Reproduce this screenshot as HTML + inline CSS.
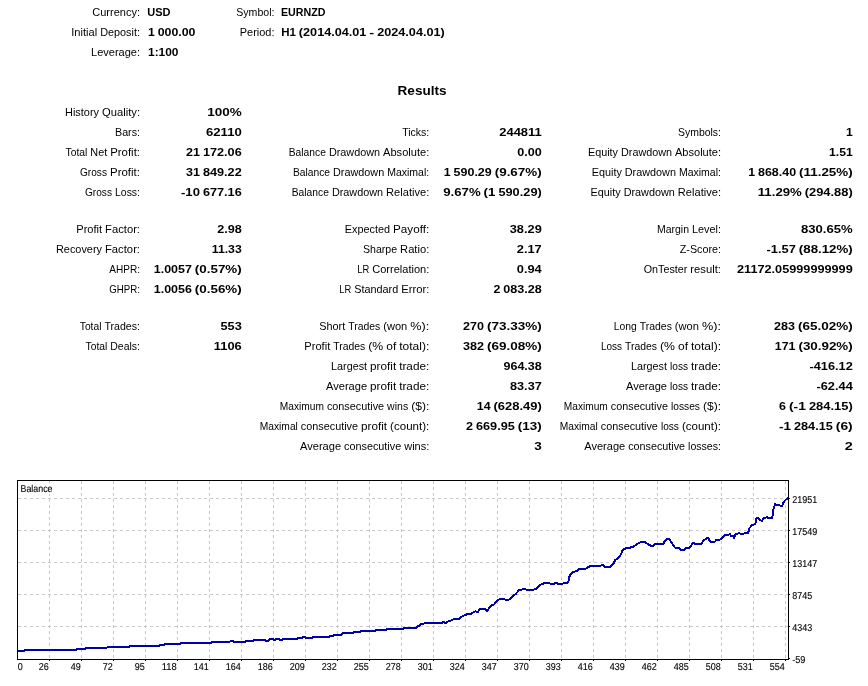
<!DOCTYPE html>
<html><head><meta charset="utf-8"><title>Strategy Tester Report</title>
<style>
html,body{margin:0;padding:0;background:#fff;}
body{width:868px;height:686px;overflow:hidden;font-family:"Liberation Sans",sans-serif;}
svg{display:block;will-change:transform;}
text{font-family:"Liberation Sans",sans-serif;fill:#000;}
.b{font-weight:bold;}
</style></head><body>
<svg width="868" height="686" viewBox="0 0 868 686">
<rect x="0" y="0" width="868" height="686" fill="#fff"/>
<g stroke="#c8c8c8" stroke-width="1" stroke-dasharray="3 3" shape-rendering="crispEdges" fill="none">
<line x1="49.5" y1="481" x2="49.5" y2="659"/>
<line x1="81.5" y1="481" x2="81.5" y2="659"/>
<line x1="113.5" y1="481" x2="113.5" y2="659"/>
<line x1="145.5" y1="481" x2="145.5" y2="659"/>
<line x1="177.5" y1="481" x2="177.5" y2="659"/>
<line x1="209.5" y1="481" x2="209.5" y2="659"/>
<line x1="241.5" y1="481" x2="241.5" y2="659"/>
<line x1="273.5" y1="481" x2="273.5" y2="659"/>
<line x1="305.5" y1="481" x2="305.5" y2="659"/>
<line x1="337.5" y1="481" x2="337.5" y2="659"/>
<line x1="369.5" y1="481" x2="369.5" y2="659"/>
<line x1="401.5" y1="481" x2="401.5" y2="659"/>
<line x1="433.5" y1="481" x2="433.5" y2="659"/>
<line x1="465.5" y1="481" x2="465.5" y2="659"/>
<line x1="497.5" y1="481" x2="497.5" y2="659"/>
<line x1="529.5" y1="481" x2="529.5" y2="659"/>
<line x1="561.5" y1="481" x2="561.5" y2="659"/>
<line x1="593.5" y1="481" x2="593.5" y2="659"/>
<line x1="625.5" y1="481" x2="625.5" y2="659"/>
<line x1="657.5" y1="481" x2="657.5" y2="659"/>
<line x1="689.5" y1="481" x2="689.5" y2="659"/>
<line x1="721.5" y1="481" x2="721.5" y2="659"/>
<line x1="753.5" y1="481" x2="753.5" y2="659"/>
<line x1="785.5" y1="481" x2="785.5" y2="659"/>
<line x1="18" y1="498.5" x2="788" y2="498.5"/>
<line x1="18" y1="530.5" x2="788" y2="530.5"/>
<line x1="18" y1="562.5" x2="788" y2="562.5"/>
<line x1="18" y1="594.5" x2="788" y2="594.5"/>
<line x1="18" y1="626.5" x2="788" y2="626.5"/>
</g>
<rect x="19" y="483" width="34" height="11" fill="#fff"/>
<polyline fill="none" stroke="#0000aa" stroke-width="2" stroke-linejoin="round" stroke-linecap="butt" shape-rendering="crispEdges" points="17.5,651.0 23.8,651.0 24.5,650.0 75.7,650.0 76.5,649.0 85.0,649.0 86.0,647.7 106.8,647.6 107.6,646.9 129.0,646.8 130.0,645.9 159.5,645.9 160.5,644.9 164.0,644.7 165.0,643.8 180.0,643.7 181.0,642.8 211.0,642.8 212.0,642.0 229.5,642.0 230.5,641.1 233.0,641.1 234.0,642.0 245.0,642.0 246.0,641.1 253.0,641.1 254.0,640.1 265.0,640.1 266.5,641.1 268.5,641.1 270.0,639.0 272.7,639.0 273.7,640.0 275.0,640.0 276.0,638.9 278.7,638.9 279.8,639.9 282.0,639.9 283.0,638.9 297.0,638.9 297.8,637.9 302.0,637.9 302.6,636.8 304.7,636.8 305.5,637.9 312.5,637.9 313.3,636.8 329.0,636.8 329.9,635.8 333.0,635.8 334.0,634.9 341.0,634.9 342.5,633.0 353.0,632.9 354.0,631.8 360.0,631.8 360.8,630.8 375.5,630.8 376.4,629.7 386.0,629.7 386.8,628.7 403.0,628.7 404.0,627.7 416.0,627.7 417.5,626.3 419.6,625.6 421.0,624.2 424.0,623.6 425.0,623.0 441.6,623.0 443.0,621.8 445.7,623.0 447.8,621.5 450.6,620.6 454.0,619.2 458.9,619.0 461.6,616.7 465.1,614.9 467.9,614.1 471.3,613.9 473.4,612.3 475.7,611.2 477.5,612.3 479.6,609.4 481.7,608.7 484.4,608.9 487.2,610.9 490.0,607.0 492.0,605.1 494.1,604.5 496.9,601.1 499.7,599.0 503.8,599.0 505.9,600.1 508.6,599.8 511.4,598.0 513.5,595.7 516.2,593.5 519.0,590.1 521.8,589.6 524.3,588.8 526.6,589.7 533.5,589.7 536.3,588.6 538.8,585.8 541.9,584.0 545.4,583.0 548.8,583.0 550.9,584.0 553.7,583.9 555.7,582.9 558.5,583.9 562.0,583.9 564.0,582.9 567.5,582.9 568.9,580.1 569.6,576.0 571.6,573.0 574.4,571.6 577.2,570.7 579.2,568.9 585.5,568.8 587.5,567.3 591.0,565.9 600.0,565.9 602.5,564.9 604.8,566.7 610.3,566.7 613.1,564.5 615.2,559.8 618.0,558.4 620.7,554.6 622.4,550.7 624.9,548.6 629.0,547.9 633.2,546.8 636.6,544.2 640.8,542.1 645.0,541.9 647.8,544.0 651.2,546.0 653.0,546.0 655.0,544.1 663.0,544.1 664.4,541.8 667.1,539.1 669.2,539.1 672.0,543.1 675.1,547.7 678.9,548.0 680.3,549.9 684.4,549.9 686.5,547.7 689.0,547.7 691.3,545.6 692.7,543.1 694.4,543.1 695.5,544.1 701.4,544.1 703.1,541.1 705.8,539.0 708.3,537.6 710.0,541.5 715.2,541.5 716.2,540.1 719.0,540.1 721.7,538.7 724.5,535.0 728.6,534.8 730.0,533.6 731.0,535.9 733.5,536.2 734.2,538.0 735.6,533.9 738.2,533.4 743.8,533.7 744.7,532.9 748.4,532.7 748.8,528.8 752.0,525.3 754.8,524.2 756.2,521.9 756.4,517.9 758.0,517.9 760.3,520.0 761.9,520.9 763.6,518.0 766.3,517.4 771.9,517.9 772.8,515.4 773.0,510.3 774.2,507.6 774.8,504.4 776.0,504.6 779.2,504.8 780.6,506.0 782.2,506.0 783.4,502.5 785.7,499.7 788.3,497.7"/>
<g stroke="#000" stroke-width="1" shape-rendering="crispEdges" fill="none">
<rect x="17.5" y="480.5" width="771" height="179"/>
<line x1="49.5" y1="660" x2="49.5" y2="661"/>
<line x1="81.5" y1="660" x2="81.5" y2="661"/>
<line x1="113.5" y1="660" x2="113.5" y2="661"/>
<line x1="145.5" y1="660" x2="145.5" y2="661"/>
<line x1="177.5" y1="660" x2="177.5" y2="661"/>
<line x1="209.5" y1="660" x2="209.5" y2="661"/>
<line x1="241.5" y1="660" x2="241.5" y2="661"/>
<line x1="273.5" y1="660" x2="273.5" y2="661"/>
<line x1="305.5" y1="660" x2="305.5" y2="661"/>
<line x1="337.5" y1="660" x2="337.5" y2="661"/>
<line x1="369.5" y1="660" x2="369.5" y2="661"/>
<line x1="401.5" y1="660" x2="401.5" y2="661"/>
<line x1="433.5" y1="660" x2="433.5" y2="661"/>
<line x1="465.5" y1="660" x2="465.5" y2="661"/>
<line x1="497.5" y1="660" x2="497.5" y2="661"/>
<line x1="529.5" y1="660" x2="529.5" y2="661"/>
<line x1="561.5" y1="660" x2="561.5" y2="661"/>
<line x1="593.5" y1="660" x2="593.5" y2="661"/>
<line x1="625.5" y1="660" x2="625.5" y2="661"/>
<line x1="657.5" y1="660" x2="657.5" y2="661"/>
<line x1="689.5" y1="660" x2="689.5" y2="661"/>
<line x1="721.5" y1="660" x2="721.5" y2="661"/>
<line x1="753.5" y1="660" x2="753.5" y2="661"/>
<line x1="785.5" y1="660" x2="785.5" y2="661"/>
<line x1="789" y1="498.5" x2="790" y2="498.5"/>
<line x1="789" y1="530.5" x2="790" y2="530.5"/>
<line x1="789" y1="562.5" x2="790" y2="562.5"/>
<line x1="789" y1="594.5" x2="790" y2="594.5"/>
<line x1="789" y1="626.5" x2="790" y2="626.5"/>
<line x1="789" y1="658.5" x2="790" y2="658.5"/>
</g>
<text x="92.25" y="16" font-size="11" textLength="47.75" lengthAdjust="spacingAndGlyphs">Currency:</text>
<text x="71.25" y="36" font-size="11" textLength="25.91" lengthAdjust="spacingAndGlyphs">Initial</text>
<text x="100.14" y="36" font-size="11" textLength="39.86" lengthAdjust="spacingAndGlyphs">Deposit:</text>
<text x="91.00" y="56" font-size="11" textLength="49.00" lengthAdjust="spacingAndGlyphs">Leverage:</text>
<text class="b" x="147.25" y="16" font-size="11" textLength="23.25" lengthAdjust="spacingAndGlyphs">USD</text>
<text class="b" x="148.00" y="36" font-size="11" textLength="6.79" lengthAdjust="spacingAndGlyphs">1</text>
<text class="b" x="157.69" y="36" font-size="11" textLength="37.81" lengthAdjust="spacingAndGlyphs">000.00</text>
<text class="b" x="148.00" y="56" font-size="11" textLength="30.50" lengthAdjust="spacingAndGlyphs">1:100</text>
<text x="236.25" y="16" font-size="11" textLength="38.25" lengthAdjust="spacingAndGlyphs">Symbol:</text>
<text x="239.75" y="36" font-size="11" textLength="34.75" lengthAdjust="spacingAndGlyphs">Period:</text>
<text class="b" x="281.00" y="16" font-size="11" textLength="44.50" lengthAdjust="spacingAndGlyphs">EURNZD</text>
<text class="b" x="281.25" y="36" font-size="11" textLength="14.69" lengthAdjust="spacingAndGlyphs">H1</text>
<text class="b" x="298.87" y="36" font-size="11" textLength="67.55" lengthAdjust="spacingAndGlyphs">(2014.04.01</text>
<text class="b" x="369.36" y="36" font-size="11" textLength="4.90" lengthAdjust="spacingAndGlyphs">-</text>
<text class="b" x="377.20" y="36" font-size="11" textLength="67.55" lengthAdjust="spacingAndGlyphs">2024.04.01)</text>
<text class="b" x="397.55" y="95" font-size="13" textLength="49.00" lengthAdjust="spacingAndGlyphs">Results</text>
<text x="65.00" y="116" font-size="11" textLength="34.00" lengthAdjust="spacingAndGlyphs">History</text>
<text x="102.00" y="116" font-size="11" textLength="38.00" lengthAdjust="spacingAndGlyphs">Quality:</text>
<text x="115.00" y="136" font-size="11" textLength="25.00" lengthAdjust="spacingAndGlyphs">Bars:</text>
<text x="65.50" y="156" font-size="11" textLength="21.85" lengthAdjust="spacingAndGlyphs">Total</text>
<text x="90.33" y="156" font-size="11" textLength="16.89" lengthAdjust="spacingAndGlyphs">Net</text>
<text x="110.20" y="156" font-size="11" textLength="29.80" lengthAdjust="spacingAndGlyphs">Profit:</text>
<text x="80.00" y="176" font-size="11" textLength="27.00" lengthAdjust="spacingAndGlyphs">Gross</text>
<text x="110.00" y="176" font-size="11" textLength="30.00" lengthAdjust="spacingAndGlyphs">Profit:</text>
<text x="85.00" y="196" font-size="11" textLength="27.00" lengthAdjust="spacingAndGlyphs">Gross</text>
<text x="115.00" y="196" font-size="11" textLength="25.00" lengthAdjust="spacingAndGlyphs">Loss:</text>
<text class="b" x="207.25" y="116" font-size="11" textLength="34.50" lengthAdjust="spacingAndGlyphs">100%</text>
<text class="b" x="206.00" y="136" font-size="11" textLength="35.75" lengthAdjust="spacingAndGlyphs">62110</text>
<text class="b" x="186.00" y="156" font-size="11" textLength="13.94" lengthAdjust="spacingAndGlyphs">21</text>
<text class="b" x="202.92" y="156" font-size="11" textLength="38.83" lengthAdjust="spacingAndGlyphs">172.06</text>
<text class="b" x="186.00" y="176" font-size="11" textLength="13.94" lengthAdjust="spacingAndGlyphs">31</text>
<text class="b" x="202.92" y="176" font-size="11" textLength="38.83" lengthAdjust="spacingAndGlyphs">849.22</text>
<text class="b" x="181.00" y="196" font-size="11" textLength="18.92" lengthAdjust="spacingAndGlyphs">-10</text>
<text class="b" x="202.91" y="196" font-size="11" textLength="38.84" lengthAdjust="spacingAndGlyphs">677.16</text>
<text x="402.25" y="136" font-size="11" textLength="27.00" lengthAdjust="spacingAndGlyphs">Ticks:</text>
<text x="288.75" y="156" font-size="11" textLength="37.13" lengthAdjust="spacingAndGlyphs">Balance</text>
<text x="328.89" y="156" font-size="11" textLength="51.18" lengthAdjust="spacingAndGlyphs">Drawdown</text>
<text x="383.09" y="156" font-size="11" textLength="46.16" lengthAdjust="spacingAndGlyphs">Absolute:</text>
<text x="293.00" y="176" font-size="11" textLength="37.07" lengthAdjust="spacingAndGlyphs">Balance</text>
<text x="333.07" y="176" font-size="11" textLength="51.09" lengthAdjust="spacingAndGlyphs">Drawdown</text>
<text x="387.17" y="176" font-size="11" textLength="42.08" lengthAdjust="spacingAndGlyphs">Maximal:</text>
<text x="291.75" y="196" font-size="11" textLength="37.14" lengthAdjust="spacingAndGlyphs">Balance</text>
<text x="331.90" y="196" font-size="11" textLength="51.19" lengthAdjust="spacingAndGlyphs">Drawdown</text>
<text x="386.09" y="196" font-size="11" textLength="43.16" lengthAdjust="spacingAndGlyphs">Relative:</text>
<text class="b" x="499.25" y="136" font-size="11" textLength="42.50" lengthAdjust="spacingAndGlyphs">244811</text>
<text class="b" x="517.25" y="156" font-size="11" textLength="24.50" lengthAdjust="spacingAndGlyphs">0.00</text>
<text class="b" x="443.75" y="176" font-size="11" textLength="6.86" lengthAdjust="spacingAndGlyphs">1</text>
<text class="b" x="453.55" y="176" font-size="11" textLength="38.22" lengthAdjust="spacingAndGlyphs">590.29</text>
<text class="b" x="494.71" y="176" font-size="11" textLength="47.04" lengthAdjust="spacingAndGlyphs">(9.67%)</text>
<text class="b" x="443.25" y="196" font-size="11" textLength="37.43" lengthAdjust="spacingAndGlyphs">9.67%</text>
<text class="b" x="483.63" y="196" font-size="11" textLength="11.82" lengthAdjust="spacingAndGlyphs">(1</text>
<text class="b" x="498.41" y="196" font-size="11" textLength="43.34" lengthAdjust="spacingAndGlyphs">590.29)</text>
<text x="678.00" y="136" font-size="11" textLength="43.00" lengthAdjust="spacingAndGlyphs">Symbols:</text>
<text x="588.00" y="156" font-size="11" textLength="30.00" lengthAdjust="spacingAndGlyphs">Equity</text>
<text x="621.00" y="156" font-size="11" textLength="51.00" lengthAdjust="spacingAndGlyphs">Drawdown</text>
<text x="675.00" y="156" font-size="11" textLength="46.00" lengthAdjust="spacingAndGlyphs">Absolute:</text>
<text x="591.75" y="176" font-size="11" textLength="30.06" lengthAdjust="spacingAndGlyphs">Equity</text>
<text x="624.81" y="176" font-size="11" textLength="51.10" lengthAdjust="spacingAndGlyphs">Drawdown</text>
<text x="678.92" y="176" font-size="11" textLength="42.08" lengthAdjust="spacingAndGlyphs">Maximal:</text>
<text x="590.50" y="196" font-size="11" textLength="30.12" lengthAdjust="spacingAndGlyphs">Equity</text>
<text x="623.63" y="196" font-size="11" textLength="51.20" lengthAdjust="spacingAndGlyphs">Drawdown</text>
<text x="677.83" y="196" font-size="11" textLength="43.17" lengthAdjust="spacingAndGlyphs">Relative:</text>
<text class="b" x="846.00" y="136" font-size="11" textLength="6.75" lengthAdjust="spacingAndGlyphs">1</text>
<text class="b" x="829.00" y="156" font-size="11" textLength="23.75" lengthAdjust="spacingAndGlyphs">1.51</text>
<text class="b" x="748.25" y="176" font-size="11" textLength="6.84" lengthAdjust="spacingAndGlyphs">1</text>
<text class="b" x="758.02" y="176" font-size="11" textLength="38.09" lengthAdjust="spacingAndGlyphs">868.40</text>
<text class="b" x="799.04" y="176" font-size="11" textLength="53.71" lengthAdjust="spacingAndGlyphs">(11.25%)</text>
<text class="b" x="757.75" y="196" font-size="11" textLength="44.07" lengthAdjust="spacingAndGlyphs">11.29%</text>
<text class="b" x="804.76" y="196" font-size="11" textLength="47.99" lengthAdjust="spacingAndGlyphs">(294.88)</text>
<text x="76.25" y="233" font-size="11" textLength="25.90" lengthAdjust="spacingAndGlyphs">Profit</text>
<text x="105.14" y="233" font-size="11" textLength="34.86" lengthAdjust="spacingAndGlyphs">Factor:</text>
<text x="56.00" y="253" font-size="11" textLength="46.00" lengthAdjust="spacingAndGlyphs">Recovery</text>
<text x="105.00" y="253" font-size="11" textLength="35.00" lengthAdjust="spacingAndGlyphs">Factor:</text>
<text x="109.25" y="273" font-size="11" textLength="30.75" lengthAdjust="spacingAndGlyphs">AHPR:</text>
<text x="109.25" y="293" font-size="11" textLength="30.75" lengthAdjust="spacingAndGlyphs">GHPR:</text>
<text class="b" x="217.25" y="233" font-size="11" textLength="24.50" lengthAdjust="spacingAndGlyphs">2.98</text>
<text class="b" x="211.75" y="253" font-size="11" textLength="30.00" lengthAdjust="spacingAndGlyphs">11.33</text>
<text class="b" x="153.75" y="273" font-size="11" textLength="38.13" lengthAdjust="spacingAndGlyphs">1.0057</text>
<text class="b" x="194.82" y="273" font-size="11" textLength="46.93" lengthAdjust="spacingAndGlyphs">(0.57%)</text>
<text class="b" x="153.75" y="293" font-size="11" textLength="38.13" lengthAdjust="spacingAndGlyphs">1.0056</text>
<text class="b" x="194.82" y="293" font-size="11" textLength="46.93" lengthAdjust="spacingAndGlyphs">(0.56%)</text>
<text x="344.75" y="233" font-size="11" textLength="45.27" lengthAdjust="spacingAndGlyphs">Expected</text>
<text x="393.04" y="233" font-size="11" textLength="36.21" lengthAdjust="spacingAndGlyphs">Payoff:</text>
<text x="363.00" y="253" font-size="11" textLength="34.13" lengthAdjust="spacingAndGlyphs">Sharpe</text>
<text x="400.14" y="253" font-size="11" textLength="29.11" lengthAdjust="spacingAndGlyphs">Ratio:</text>
<text x="357.25" y="273" font-size="11" textLength="12.00" lengthAdjust="spacingAndGlyphs">LR</text>
<text x="372.25" y="273" font-size="11" textLength="57.00" lengthAdjust="spacingAndGlyphs">Correlation:</text>
<text x="339.25" y="293" font-size="11" textLength="12.00" lengthAdjust="spacingAndGlyphs">LR</text>
<text x="354.25" y="293" font-size="11" textLength="44.00" lengthAdjust="spacingAndGlyphs">Standard</text>
<text x="401.25" y="293" font-size="11" textLength="28.00" lengthAdjust="spacingAndGlyphs">Error:</text>
<text class="b" x="509.75" y="233" font-size="11" textLength="32.00" lengthAdjust="spacingAndGlyphs">38.29</text>
<text class="b" x="516.75" y="253" font-size="11" textLength="25.00" lengthAdjust="spacingAndGlyphs">2.17</text>
<text class="b" x="516.75" y="273" font-size="11" textLength="25.00" lengthAdjust="spacingAndGlyphs">0.94</text>
<text class="b" x="493.50" y="293" font-size="11" textLength="6.89" lengthAdjust="spacingAndGlyphs">2</text>
<text class="b" x="503.35" y="293" font-size="11" textLength="38.40" lengthAdjust="spacingAndGlyphs">083.28</text>
<text x="657.00" y="233" font-size="11" textLength="32.00" lengthAdjust="spacingAndGlyphs">Margin</text>
<text x="692.00" y="233" font-size="11" textLength="29.00" lengthAdjust="spacingAndGlyphs">Level:</text>
<text x="679.75" y="253" font-size="11" textLength="41.25" lengthAdjust="spacingAndGlyphs">Z-Score:</text>
<text x="643.75" y="273" font-size="11" textLength="43.58" lengthAdjust="spacingAndGlyphs">OnTester</text>
<text x="690.30" y="273" font-size="11" textLength="30.70" lengthAdjust="spacingAndGlyphs">result:</text>
<text class="b" x="801.00" y="233" font-size="11" textLength="51.75" lengthAdjust="spacingAndGlyphs">830.65%</text>
<text class="b" x="766.50" y="253" font-size="11" textLength="29.40" lengthAdjust="spacingAndGlyphs">-1.57</text>
<text class="b" x="798.84" y="253" font-size="11" textLength="53.91" lengthAdjust="spacingAndGlyphs">(88.12%)</text>
<text class="b" x="737.00" y="273" font-size="11" textLength="115.75" lengthAdjust="spacingAndGlyphs">21172.05999999999</text>
<text x="79.75" y="330" font-size="11" textLength="21.73" lengthAdjust="spacingAndGlyphs">Total</text>
<text x="104.44" y="330" font-size="11" textLength="35.56" lengthAdjust="spacingAndGlyphs">Trades:</text>
<text x="85.50" y="350" font-size="11" textLength="21.80" lengthAdjust="spacingAndGlyphs">Total</text>
<text x="110.27" y="350" font-size="11" textLength="29.73" lengthAdjust="spacingAndGlyphs">Deals:</text>
<text class="b" x="220.50" y="330" font-size="11" textLength="21.25" lengthAdjust="spacingAndGlyphs">553</text>
<text class="b" x="213.75" y="350" font-size="11" textLength="28.00" lengthAdjust="spacingAndGlyphs">1106</text>
<text x="319.25" y="330" font-size="11" textLength="26.00" lengthAdjust="spacingAndGlyphs">Short</text>
<text x="348.25" y="330" font-size="11" textLength="32.00" lengthAdjust="spacingAndGlyphs">Trades</text>
<text x="383.25" y="330" font-size="11" textLength="24.00" lengthAdjust="spacingAndGlyphs">(won</text>
<text x="410.25" y="330" font-size="11" textLength="19.00" lengthAdjust="spacingAndGlyphs">%):</text>
<text x="304.25" y="350" font-size="11" textLength="26.00" lengthAdjust="spacingAndGlyphs">Profit</text>
<text x="333.25" y="350" font-size="11" textLength="32.00" lengthAdjust="spacingAndGlyphs">Trades</text>
<text x="368.25" y="350" font-size="11" textLength="15.00" lengthAdjust="spacingAndGlyphs">(%</text>
<text x="386.25" y="350" font-size="11" textLength="10.00" lengthAdjust="spacingAndGlyphs">of</text>
<text x="399.25" y="350" font-size="11" textLength="30.00" lengthAdjust="spacingAndGlyphs">total):</text>
<text x="331.00" y="370" font-size="11" textLength="36.09" lengthAdjust="spacingAndGlyphs">Largest</text>
<text x="370.10" y="370" font-size="11" textLength="26.07" lengthAdjust="spacingAndGlyphs">profit</text>
<text x="399.17" y="370" font-size="11" textLength="30.08" lengthAdjust="spacingAndGlyphs">trade:</text>
<text x="326.00" y="390" font-size="11" textLength="41.10" lengthAdjust="spacingAndGlyphs">Average</text>
<text x="370.11" y="390" font-size="11" textLength="26.06" lengthAdjust="spacingAndGlyphs">profit</text>
<text x="399.18" y="390" font-size="11" textLength="30.07" lengthAdjust="spacingAndGlyphs">trade:</text>
<text x="279.75" y="410" font-size="11" textLength="44.15" lengthAdjust="spacingAndGlyphs">Maximum</text>
<text x="326.91" y="410" font-size="11" textLength="57.19" lengthAdjust="spacingAndGlyphs">consecutive</text>
<text x="387.11" y="410" font-size="11" textLength="21.07" lengthAdjust="spacingAndGlyphs">wins</text>
<text x="411.19" y="410" font-size="11" textLength="18.06" lengthAdjust="spacingAndGlyphs">($):</text>
<text x="259.75" y="430" font-size="11" textLength="38.11" lengthAdjust="spacingAndGlyphs">Maximal</text>
<text x="300.87" y="430" font-size="11" textLength="57.17" lengthAdjust="spacingAndGlyphs">consecutive</text>
<text x="361.05" y="430" font-size="11" textLength="26.08" lengthAdjust="spacingAndGlyphs">profit</text>
<text x="390.13" y="430" font-size="11" textLength="39.12" lengthAdjust="spacingAndGlyphs">(count):</text>
<text x="300.00" y="450" font-size="11" textLength="41.08" lengthAdjust="spacingAndGlyphs">Average</text>
<text x="344.09" y="450" font-size="11" textLength="57.11" lengthAdjust="spacingAndGlyphs">consecutive</text>
<text x="404.20" y="450" font-size="11" textLength="25.05" lengthAdjust="spacingAndGlyphs">wins:</text>
<text class="b" x="463.00" y="330" font-size="11" textLength="20.93" lengthAdjust="spacingAndGlyphs">270</text>
<text class="b" x="486.92" y="330" font-size="11" textLength="54.83" lengthAdjust="spacingAndGlyphs">(73.33%)</text>
<text class="b" x="463.00" y="350" font-size="11" textLength="20.93" lengthAdjust="spacingAndGlyphs">382</text>
<text class="b" x="486.92" y="350" font-size="11" textLength="54.83" lengthAdjust="spacingAndGlyphs">(69.08%)</text>
<text class="b" x="503.50" y="370" font-size="11" textLength="38.25" lengthAdjust="spacingAndGlyphs">964.38</text>
<text class="b" x="510.00" y="390" font-size="11" textLength="31.75" lengthAdjust="spacingAndGlyphs">83.37</text>
<text class="b" x="476.75" y="410" font-size="11" textLength="13.79" lengthAdjust="spacingAndGlyphs">14</text>
<text class="b" x="493.49" y="410" font-size="11" textLength="48.26" lengthAdjust="spacingAndGlyphs">(628.49)</text>
<text class="b" x="466.00" y="430" font-size="11" textLength="6.98" lengthAdjust="spacingAndGlyphs">2</text>
<text class="b" x="475.97" y="430" font-size="11" textLength="38.87" lengthAdjust="spacingAndGlyphs">669.95</text>
<text class="b" x="517.83" y="430" font-size="11" textLength="23.92" lengthAdjust="spacingAndGlyphs">(13)</text>
<text class="b" x="534.25" y="450" font-size="11" textLength="7.50" lengthAdjust="spacingAndGlyphs">3</text>
<text x="613.75" y="330" font-size="11" textLength="23.05" lengthAdjust="spacingAndGlyphs">Long</text>
<text x="639.81" y="330" font-size="11" textLength="32.07" lengthAdjust="spacingAndGlyphs">Trades</text>
<text x="674.89" y="330" font-size="11" textLength="24.06" lengthAdjust="spacingAndGlyphs">(won</text>
<text x="701.96" y="330" font-size="11" textLength="19.04" lengthAdjust="spacingAndGlyphs">%):</text>
<text x="601.00" y="350" font-size="11" textLength="21.00" lengthAdjust="spacingAndGlyphs">Loss</text>
<text x="625.00" y="350" font-size="11" textLength="32.00" lengthAdjust="spacingAndGlyphs">Trades</text>
<text x="660.00" y="350" font-size="11" textLength="15.00" lengthAdjust="spacingAndGlyphs">(%</text>
<text x="678.00" y="350" font-size="11" textLength="10.00" lengthAdjust="spacingAndGlyphs">of</text>
<text x="691.00" y="350" font-size="11" textLength="30.00" lengthAdjust="spacingAndGlyphs">total):</text>
<text x="631.00" y="370" font-size="11" textLength="36.00" lengthAdjust="spacingAndGlyphs">Largest</text>
<text x="670.00" y="370" font-size="11" textLength="18.00" lengthAdjust="spacingAndGlyphs">loss</text>
<text x="691.00" y="370" font-size="11" textLength="30.00" lengthAdjust="spacingAndGlyphs">trade:</text>
<text x="626.00" y="390" font-size="11" textLength="41.00" lengthAdjust="spacingAndGlyphs">Average</text>
<text x="670.00" y="390" font-size="11" textLength="18.00" lengthAdjust="spacingAndGlyphs">loss</text>
<text x="691.00" y="390" font-size="11" textLength="30.00" lengthAdjust="spacingAndGlyphs">trade:</text>
<text x="563.75" y="410" font-size="11" textLength="44.07" lengthAdjust="spacingAndGlyphs">Maximum</text>
<text x="610.82" y="410" font-size="11" textLength="57.09" lengthAdjust="spacingAndGlyphs">consecutive</text>
<text x="670.92" y="410" font-size="11" textLength="29.05" lengthAdjust="spacingAndGlyphs">losses</text>
<text x="702.97" y="410" font-size="11" textLength="18.03" lengthAdjust="spacingAndGlyphs">($):</text>
<text x="559.75" y="430" font-size="11" textLength="38.06" lengthAdjust="spacingAndGlyphs">Maximal</text>
<text x="600.81" y="430" font-size="11" textLength="57.09" lengthAdjust="spacingAndGlyphs">consecutive</text>
<text x="660.91" y="430" font-size="11" textLength="18.03" lengthAdjust="spacingAndGlyphs">loss</text>
<text x="681.94" y="430" font-size="11" textLength="39.06" lengthAdjust="spacingAndGlyphs">(count):</text>
<text x="584.25" y="450" font-size="11" textLength="40.93" lengthAdjust="spacingAndGlyphs">Average</text>
<text x="628.17" y="450" font-size="11" textLength="56.90" lengthAdjust="spacingAndGlyphs">consecutive</text>
<text x="688.06" y="450" font-size="11" textLength="32.94" lengthAdjust="spacingAndGlyphs">losses:</text>
<text class="b" x="774.00" y="330" font-size="11" textLength="20.93" lengthAdjust="spacingAndGlyphs">283</text>
<text class="b" x="797.92" y="330" font-size="11" textLength="54.83" lengthAdjust="spacingAndGlyphs">(65.02%)</text>
<text class="b" x="774.75" y="350" font-size="11" textLength="20.73" lengthAdjust="spacingAndGlyphs">171</text>
<text class="b" x="798.45" y="350" font-size="11" textLength="54.30" lengthAdjust="spacingAndGlyphs">(30.92%)</text>
<text class="b" x="809.50" y="370" font-size="11" textLength="43.25" lengthAdjust="spacingAndGlyphs">-416.12</text>
<text class="b" x="816.50" y="390" font-size="11" textLength="36.25" lengthAdjust="spacingAndGlyphs">-62.44</text>
<text class="b" x="779.00" y="410" font-size="11" textLength="6.98" lengthAdjust="spacingAndGlyphs">6</text>
<text class="b" x="788.97" y="410" font-size="11" textLength="16.94" lengthAdjust="spacingAndGlyphs">(-1</text>
<text class="b" x="808.90" y="410" font-size="11" textLength="43.85" lengthAdjust="spacingAndGlyphs">284.15)</text>
<text class="b" x="779.00" y="430" font-size="11" textLength="11.96" lengthAdjust="spacingAndGlyphs">-1</text>
<text class="b" x="793.95" y="430" font-size="11" textLength="38.87" lengthAdjust="spacingAndGlyphs">284.15</text>
<text class="b" x="835.81" y="430" font-size="11" textLength="16.94" lengthAdjust="spacingAndGlyphs">(6)</text>
<text class="b" x="844.75" y="450" font-size="11" textLength="8.00" lengthAdjust="spacingAndGlyphs">2</text>
<text x="20.50" y="492" text-rendering="geometricPrecision" stroke="#000" stroke-width="0.12" font-size="10" textLength="32.00" lengthAdjust="spacingAndGlyphs">Balance</text>
<text x="792.20" y="503" text-rendering="geometricPrecision" stroke="#000" stroke-width="0.12" font-size="10" textLength="25.00" lengthAdjust="spacingAndGlyphs">21951</text>
<text x="792.20" y="535" text-rendering="geometricPrecision" stroke="#000" stroke-width="0.12" font-size="10" textLength="25.00" lengthAdjust="spacingAndGlyphs">17549</text>
<text x="792.20" y="567" text-rendering="geometricPrecision" stroke="#000" stroke-width="0.12" font-size="10" textLength="25.00" lengthAdjust="spacingAndGlyphs">13147</text>
<text x="792.20" y="599" text-rendering="geometricPrecision" stroke="#000" stroke-width="0.12" font-size="10" textLength="20.00" lengthAdjust="spacingAndGlyphs">8745</text>
<text x="792.20" y="631" text-rendering="geometricPrecision" stroke="#000" stroke-width="0.12" font-size="10" textLength="20.00" lengthAdjust="spacingAndGlyphs">4343</text>
<text x="792.20" y="663" text-rendering="geometricPrecision" stroke="#000" stroke-width="0.12" font-size="10" textLength="13.20" lengthAdjust="spacingAndGlyphs">-59</text>
<text x="17.70" y="670" text-rendering="geometricPrecision" stroke="#000" stroke-width="0.12" font-size="10" textLength="5.00" lengthAdjust="spacingAndGlyphs">0</text>
<text x="38.70" y="670" text-rendering="geometricPrecision" stroke="#000" stroke-width="0.12" font-size="10" textLength="10.00" lengthAdjust="spacingAndGlyphs">26</text>
<text x="70.70" y="670" text-rendering="geometricPrecision" stroke="#000" stroke-width="0.12" font-size="10" textLength="10.00" lengthAdjust="spacingAndGlyphs">49</text>
<text x="102.70" y="670" text-rendering="geometricPrecision" stroke="#000" stroke-width="0.12" font-size="10" textLength="10.00" lengthAdjust="spacingAndGlyphs">72</text>
<text x="134.70" y="670" text-rendering="geometricPrecision" stroke="#000" stroke-width="0.12" font-size="10" textLength="10.00" lengthAdjust="spacingAndGlyphs">95</text>
<text x="161.70" y="670" text-rendering="geometricPrecision" stroke="#000" stroke-width="0.12" font-size="10" textLength="15.00" lengthAdjust="spacingAndGlyphs">118</text>
<text x="193.70" y="670" text-rendering="geometricPrecision" stroke="#000" stroke-width="0.12" font-size="10" textLength="15.00" lengthAdjust="spacingAndGlyphs">141</text>
<text x="225.70" y="670" text-rendering="geometricPrecision" stroke="#000" stroke-width="0.12" font-size="10" textLength="15.00" lengthAdjust="spacingAndGlyphs">164</text>
<text x="257.70" y="670" text-rendering="geometricPrecision" stroke="#000" stroke-width="0.12" font-size="10" textLength="15.00" lengthAdjust="spacingAndGlyphs">186</text>
<text x="289.70" y="670" text-rendering="geometricPrecision" stroke="#000" stroke-width="0.12" font-size="10" textLength="15.00" lengthAdjust="spacingAndGlyphs">209</text>
<text x="321.70" y="670" text-rendering="geometricPrecision" stroke="#000" stroke-width="0.12" font-size="10" textLength="15.00" lengthAdjust="spacingAndGlyphs">232</text>
<text x="353.70" y="670" text-rendering="geometricPrecision" stroke="#000" stroke-width="0.12" font-size="10" textLength="15.00" lengthAdjust="spacingAndGlyphs">255</text>
<text x="385.70" y="670" text-rendering="geometricPrecision" stroke="#000" stroke-width="0.12" font-size="10" textLength="15.00" lengthAdjust="spacingAndGlyphs">278</text>
<text x="417.70" y="670" text-rendering="geometricPrecision" stroke="#000" stroke-width="0.12" font-size="10" textLength="15.00" lengthAdjust="spacingAndGlyphs">301</text>
<text x="449.70" y="670" text-rendering="geometricPrecision" stroke="#000" stroke-width="0.12" font-size="10" textLength="15.00" lengthAdjust="spacingAndGlyphs">324</text>
<text x="481.70" y="670" text-rendering="geometricPrecision" stroke="#000" stroke-width="0.12" font-size="10" textLength="15.00" lengthAdjust="spacingAndGlyphs">347</text>
<text x="513.70" y="670" text-rendering="geometricPrecision" stroke="#000" stroke-width="0.12" font-size="10" textLength="15.00" lengthAdjust="spacingAndGlyphs">370</text>
<text x="545.70" y="670" text-rendering="geometricPrecision" stroke="#000" stroke-width="0.12" font-size="10" textLength="15.00" lengthAdjust="spacingAndGlyphs">393</text>
<text x="577.70" y="670" text-rendering="geometricPrecision" stroke="#000" stroke-width="0.12" font-size="10" textLength="15.00" lengthAdjust="spacingAndGlyphs">416</text>
<text x="609.70" y="670" text-rendering="geometricPrecision" stroke="#000" stroke-width="0.12" font-size="10" textLength="15.00" lengthAdjust="spacingAndGlyphs">439</text>
<text x="641.70" y="670" text-rendering="geometricPrecision" stroke="#000" stroke-width="0.12" font-size="10" textLength="15.00" lengthAdjust="spacingAndGlyphs">462</text>
<text x="673.70" y="670" text-rendering="geometricPrecision" stroke="#000" stroke-width="0.12" font-size="10" textLength="15.00" lengthAdjust="spacingAndGlyphs">485</text>
<text x="705.70" y="670" text-rendering="geometricPrecision" stroke="#000" stroke-width="0.12" font-size="10" textLength="15.00" lengthAdjust="spacingAndGlyphs">508</text>
<text x="737.70" y="670" text-rendering="geometricPrecision" stroke="#000" stroke-width="0.12" font-size="10" textLength="15.00" lengthAdjust="spacingAndGlyphs">531</text>
<text x="769.70" y="670" text-rendering="geometricPrecision" stroke="#000" stroke-width="0.12" font-size="10" textLength="15.00" lengthAdjust="spacingAndGlyphs">554</text>
</svg>
</body></html>
